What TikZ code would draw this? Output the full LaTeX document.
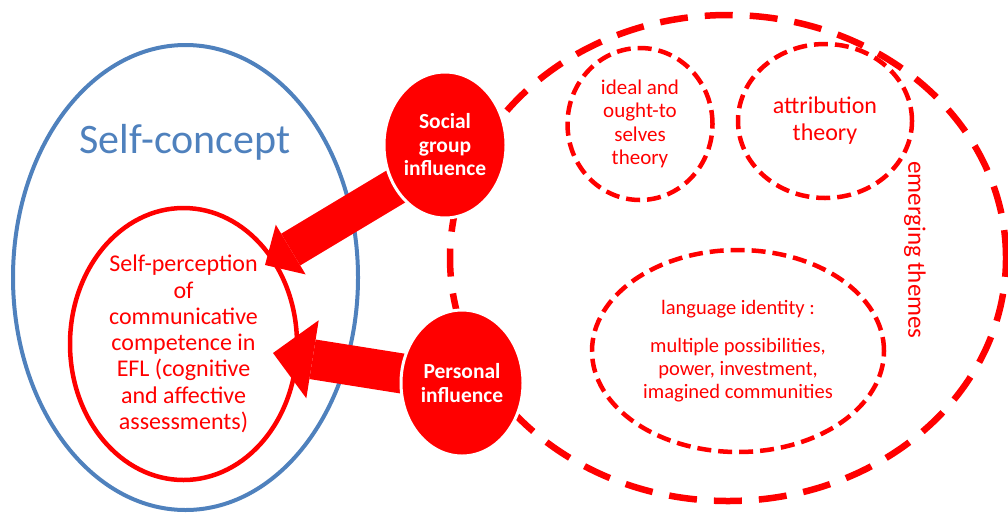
\documentclass[tikz,border=0pt]{standalone}
\usepackage{fontspec}
\setmainfont{Carlito}
\usetikzlibrary{shapes.geometric,arrows.meta}
\definecolor{scblue}{HTML}{4F81BD}
\definecolor{pred}{HTML}{FF0000}
\tikzset{
  blob/.style={ellipse, inner sep=0pt, outer sep=0pt, align=center},
  bigdash/.style={blob, draw=pred, line width=6.5pt, dash pattern=on 28pt off 17pt},
  smalldash/.style={blob, draw=pred, line width=4.5pt, dash pattern=on 14pt off 7pt, text=pred},
  influence/.style={blob, fill=pred, draw=white, line width=3pt, text=white,
    font=\bfseries\fontsize{21.5}{23.5}\selectfont, minimum width=122pt, minimum height=146pt},
  blockarrow/.style={draw=pred, line cap=butt}
}
\begin{document}
\begin{tikzpicture}[x=1pt,y=-1pt]
\useasboundingbox (0,0) rectangle (1008,512);
% self-concept outer ellipse
\node[blob, draw=scblue, line width=4pt, minimum width=345pt, minimum height=465pt] (sc) at (185.5,277.5) {};
\node[text=scblue, font=\fontsize{42}{48}\selectfont] (sctext) at (185,142) {Self-concept};
% inner self-perception ellipse
\node[blob, draw=pred, line width=4.5pt, text=pred, minimum width=227pt, minimum height=272pt,
  font=\fontsize{24}{26.3}\selectfont] (sp) at (183.5,344)
  {Self-perception\\of\\communicative\\competence in\\EFL (cognitive\\and affective\\assessments)};
% emerging themes big dashed ellipse
\node[bigdash, minimum width=556pt, minimum height=486pt] (em) at (728,258) {};
\node[text=pred, rotate=-90, font=\fontsize{25}{28}\selectfont] (emtext) at (915,250) {emerging themes};
% theme circles
\node[smalldash, minimum width=145pt, minimum height=152pt, font=\fontsize{21}{23.3}\selectfont] (ideal) at (640,124)
  {ideal and\\ought-to\\selves\\theory};
\node[smalldash, minimum width=174pt, minimum height=154pt, font=\fontsize{24}{27}\selectfont] (attr) at (825,121)
  {attribution\\theory};
\node[smalldash, minimum width=292pt, minimum height=202pt, font=\fontsize{20.5}{23}\selectfont] (lang) at (738,351)
  {language identity :\\[15pt]multiple possibilities,\\power, investment,\\imagined communities};
% arrow targets
\coordinate (t1) at (265,265);
\coordinate (t2) at (273,353);
\coordinate (s1) at (445,157);
\coordinate (s2) at (462,383);
\draw[blockarrow, line width=37pt, -{Triangle[length=30pt,width=58pt,line width=0pt]}] (s1) -- (t1);
\draw[blockarrow, line width=40pt, -{Triangle[length=40pt,width=79pt,line width=0pt]}] (s2) -- (t2);
% influence circles
\node[influence] (sg) at (445,145) {Social\\group\\influence};
\node[influence] (pi) at (462,383) {Personal\\influence};
\end{tikzpicture}
\end{document}
